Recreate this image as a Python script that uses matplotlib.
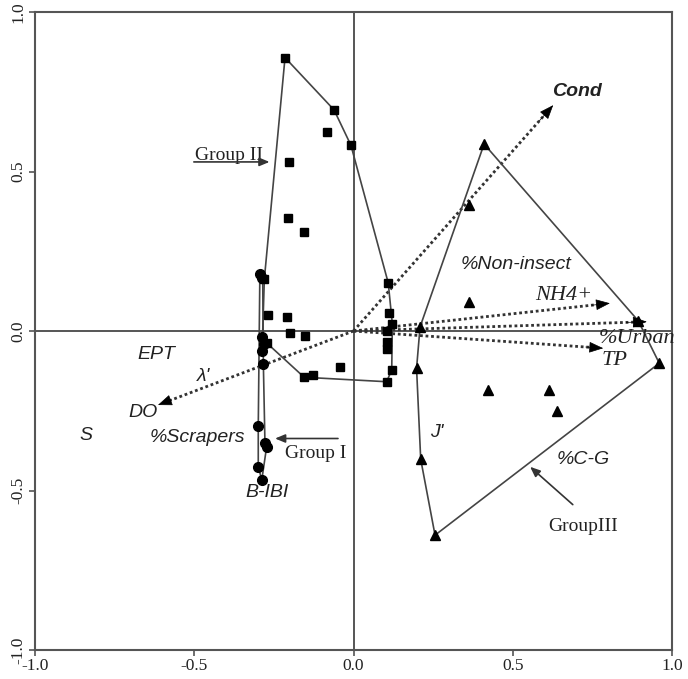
import matplotlib
matplotlib.use("Agg")
import matplotlib.pyplot as plt
import numpy as np

# ---- data ----
g2_x = [-0.215, -0.061, -0.082, -0.008, -0.204, -0.205, -0.155, 0.109, -0.280, -0.267, -0.208,
        0.112, 0.122, -0.199, -0.152, 0.106, 0.106, 0.104, 0.120, 0.104, -0.042, -0.155, -0.126, -0.273]
g2_y = [0.857, 0.693, 0.623, 0.582, 0.529, 0.355, 0.311, 0.151, 0.162, 0.049, 0.043,
        0.055, 0.022, -0.005, -0.015, 0.001, -0.034, -0.056, -0.122, -0.159, -0.112, -0.145, -0.138, -0.037]
g2_hull_x = [-0.215, -0.280, -0.285, -0.273, -0.155, 0.104, 0.120, 0.122, 0.109, -0.008, -0.061, -0.215]
g2_hull_y = [0.857, 0.162, 0.000, -0.037, -0.145, -0.159, -0.122, 0.022, 0.151, 0.582, 0.693, 0.857]

g1_x = [-0.294, -0.288, -0.288, -0.280, -0.288, -0.283, -0.299, -0.278, -0.273, -0.299, -0.288]
g1_y = [0.178, 0.165, -0.020, -0.040, -0.062, -0.104, -0.298, -0.352, -0.365, -0.425, -0.467]
g1_hull_x = [-0.294, -0.299, -0.299, -0.288, -0.273, -0.278, -0.283, -0.285, -0.294]
g1_hull_y = [0.178, -0.298, -0.425, -0.467, -0.365, -0.352, -0.104, 0.165, 0.178]

g3_x = [0.410, 0.363, 0.363, 0.209, 0.894, 0.960, 0.198, 0.423, 0.614, 0.640, 0.211, 0.256]
g3_y = [0.586, 0.395, 0.092, 0.013, 0.032, -0.101, -0.117, -0.185, -0.185, -0.251, -0.402, -0.640]
g3_hull_x = [0.410, 0.894, 0.960, 0.256, 0.211, 0.198, 0.209, 0.410]
g3_hull_y = [0.586, 0.032, -0.101, -0.640, -0.402, -0.117, 0.013, 0.586]

arrow_names = ["Cond", "DO", "NH4+", "%Urban", "TP"]
arrow_x = [0.627, -0.614, 0.805, 0.921, 0.784]
arrow_y = [0.708, -0.232, 0.087, 0.029, -0.054]

tick_vals = [-1.0, -0.5, 0.0, 0.5, 1.0]
tick_labels = ["-1.0", "-0.5", "0.0", "0.5", "1.0"]

# ---- figure ----
fig = plt.figure(figsize=(6.88, 6.79), dpi=100)
ax = fig.add_axes([35/688, 29/679, 637/688, 638/679])
ax.set_xlim(-1.0, 1.0)
ax.set_ylim(-1.0, 1.0)

for s in ax.spines.values():
    s.set_color("#555555")
    s.set_linewidth(1.5)

ax.set_xticks(tick_vals)
ax.set_xticklabels(tick_labels, family="Liberation Serif", fontsize=12.5, color="#222222")
ax.set_yticks(tick_vals)
ax.set_yticklabels(tick_labels, family="Liberation Serif", fontsize=12.5, color="#222222",
                   rotation=90, va="center")
ax.tick_params(direction="out", length=4, width=1.2, color="#555555", pad=2)

ax.axhline(0, color="#555555", lw=1.4, zorder=1)
ax.axvline(0, color="#555555", lw=1.4, zorder=1)

# arrows
for nx, ny in zip(arrow_x, arrow_y):
    ax.plot([0, nx * 0.96], [0, ny * 0.96], linestyle=(0, (1, 1)), color="#333333", lw=2.0, zorder=2)
    ax.annotate("", xy=(nx, ny), xytext=(nx * 0.93, ny * 0.93),
                arrowprops=dict(arrowstyle="-|>,head_length=0.9,head_width=0.35",
                                color="black", lw=0.5, shrinkA=0, shrinkB=0), zorder=3)

# hulls
ax.plot(g2_hull_x, g2_hull_y, color="#444444", lw=1.2, zorder=2)
ax.plot(g1_hull_x, g1_hull_y, color="#444444", lw=1.2, zorder=2)
ax.plot(g3_hull_x, g3_hull_y, color="#444444", lw=1.2, zorder=2)

# points
ax.plot(g2_x, g2_y, "s", color="black", ms=6, zorder=4, ls="none")
ax.plot(g1_x, g1_y, "o", color="black", ms=7, zorder=4, ls="none")
ax.plot(g3_x, g3_y, "^", color="black", ms=6.5, zorder=4, ls="none")

sans_it = dict(family="Liberation Sans", style="italic", fontsize=14, color="#222222")
serif_it = dict(family="Liberation Serif", style="italic", fontsize=16, color="#222222")

ax.text(0.70, 0.75, "Cond", ha="center", va="center", fontweight="bold", **sans_it)
ax.text(0.51, 0.21, "%Non-insect", ha="center", va="center", **sans_it)
ax.text(0.66, 0.11, "NH4+", ha="center", va="center", **serif_it)
ax.text(0.89, -0.025, "%Urban", ha="center", va="center", **serif_it)
ax.text(0.82, -0.094, "TP", ha="center", va="center", **serif_it)
ax.text(-0.62, -0.073, "EPT", ha="center", va="center", **sans_it)
ax.text(-0.47, -0.142, "\u03bb'", ha="center", va="center", **sans_it)
ax.text(-0.66, -0.255, "DO", ha="center", va="center", **sans_it)
ax.text(-0.84, -0.328, "S", ha="center", va="center", **sans_it)
ax.text(-0.49, -0.335, "%Scrapers", ha="center", va="center", **sans_it)
ax.text(-0.27, -0.507, "B-IBI", ha="center", va="center", **sans_it)
ax.text(0.26, -0.318, "J'", ha="center", va="center", **sans_it)
ax.text(0.72, -0.402, "%C-G", ha="center", va="center", **sans_it)

grp = dict(family="Liberation Serif", fontsize=14, color="#222222")
ax.text(-0.39, 0.55, "Group II", ha="center", va="center", **grp)
ax.annotate("", xy=(-0.255, 0.530), xytext=(-0.51, 0.530),
            arrowprops=dict(arrowstyle="-|>,head_length=0.6,head_width=0.25", color="#333333", lw=1.2))
ax.text(-0.12, -0.385, "Group I", ha="center", va="center", **grp)
ax.annotate("", xy=(-0.255, -0.337), xytext=(-0.04, -0.337),
            arrowprops=dict(arrowstyle="-|>,head_length=0.6,head_width=0.25", color="#333333", lw=1.2))
ax.text(0.72, -0.612, "GroupIII", ha="center", va="center", **grp)
ax.annotate("", xy=(0.548, -0.42), xytext=(0.695, -0.55),
            arrowprops=dict(arrowstyle="-|>,head_length=0.6,head_width=0.25", color="#333333", lw=1.2))

fig.savefig("out.png", dpi=100, facecolor="white")
